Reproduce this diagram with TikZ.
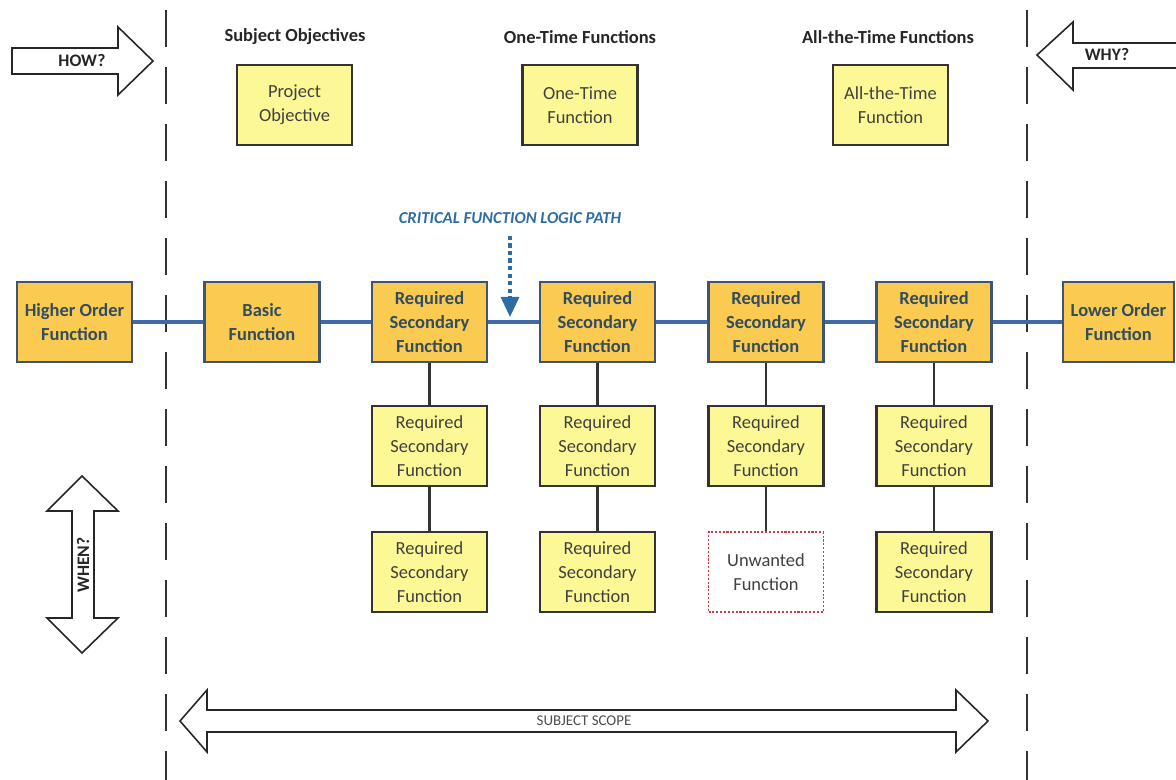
\documentclass[tikz,border=0pt]{standalone}
\usepackage{fontspec}
\setmainfont{Carlito}
\usepackage{tikz}
\usetikzlibrary{arrows.meta}
\usetikzlibrary{positioning}

\definecolor{gold}{RGB}{250,203,80}
\definecolor{boxline}{RGB}{62,84,112}
\definecolor{boxtext}{RGB}{50,76,96}
\definecolor{linkblue}{RGB}{64,104,172}
\definecolor{paleyellow}{RGB}{252,248,150}
\definecolor{critblue}{RGB}{46,108,164}
\definecolor{unwantedred}{RGB}{200,60,70}

\begin{document}
\begin{tikzpicture}
	[x=0.02cm,y=0.02cm,
	every node/.style={font=\fontsize{10.5}{13.5}\selectfont},
	mainbox/.style={draw=boxline,fill=gold,line width=1.2pt,minimum width=2.3cm,minimum height=1.6cm,align=center,text=boxtext,font=\fontsize{10.5}{13.5}\selectfont\bfseries},
	subbox/.style={draw=black!80,fill=paleyellow,line width=1.2pt,minimum width=2.3cm,minimum height=1.6cm,align=center,text=black!75},
	unwanted/.style={subbox,draw=unwantedred,fill=white,densely dotted,line width=1.1pt},
	heading/.style={font=\fontsize{10.5}{13.5}\selectfont\bfseries,text=black!85},
	bigarrow/.style={draw=black!85,fill=white,line width=0.9pt,line join=miter},
	arrowtext/.style={font=\fontsize{10}{12}\selectfont\bfseries,text=black!85},
	link/.style={draw=linkblue,line width=2pt},
	drop/.style={draw=black!80,line width=1.3pt},
	border/.style={draw=black!80,line width=1.2pt,dash pattern=on 0.74cm off 0.4cm}]
	\useasboundingbox (0,0) rectangle (1176,780);

	% scope boundaries
	\draw[border] (166,770) -- (166,0);
	\draw[border] (1027,770) -- (1027,0);

	% HOW? / WHY? / WHEN?
	\draw[bigarrow] (12,732) -- (118,732) -- (118,753) -- (153,719) -- (118,685) -- (118,706) -- (12,706) -- cycle;
	\node[arrowtext] (how) at (82,719) {HOW?};
	\draw[bigarrow] (1180,737) -- (1073,737) -- (1073,758) -- (1037,725) -- (1073,690) -- (1073,712) -- (1180,712);
	\node[arrowtext] (why) at (1107,725) {WHY?};
	\draw[bigarrow] (82,304) -- (118,269) -- (94,269) -- (94,162) -- (118,162) -- (82,127) -- (47,162) -- (72,162) -- (72,269) -- (47,269) -- cycle;
	\node[arrowtext,rotate=90] (when) at (83,215) {WHEN?};

	% top row
	\node[heading] (hsub) at (295,743) {Subject Objectives};
	\node[heading] (hone) at (580,743) {One-Time Functions};
	\node[heading] (hall) at (888,743) {All-the-Time Functions};
	\node[subbox] (proj) at (294.5,675) {Project\\Objective};
	\node[subbox] (once) at (580,675) {One-Time\\Function};
	\node[subbox] (always) at (890.5,675) {All-the-Time\\Function};

	% critical path
	\node[font=\fontsize{9.5}{11}\selectfont\bfseries\itshape,text=critblue] (crit) at (510,562) {CRITICAL FUNCTION LOGIC PATH};
	\coordinate (cp) at (510,463);
	\draw[critblue,line width=1.8pt,dash pattern=on 2.5pt off 1.8pt,-{Triangle[length=0.4cm,width=0.36cm]}] (crit.south) ++(0,-6) -- (cp);

	% main row
	\node[mainbox] (ho) at (74.5,458) {Higher Order\\Function};
	\node[mainbox] (basic) at (262,458) {Basic\\Function};
	\node[mainbox] (rs1) at (429.5,458) {Required\\Secondary\\Function};
	\node[mainbox] (rs2) at (597.5,458) {Required\\Secondary\\Function};
	\node[mainbox] (rs3) at (766,458) {Required\\Secondary\\Function};
	\node[mainbox] (rs4) at (934,458) {Required\\Secondary\\Function};
	\node[mainbox,minimum width=2.22cm] (lo) at (1118.5,458) {Lower Order\\Function};
	\draw[link] (ho) -- (basic) -- (rs1) -- (rs2) -- (rs3) -- (rs4) -- (lo);

	% secondary rows
	\node[subbox,below=0.84cm of rs1] (a2) {Required\\Secondary\\Function};
	\node[subbox,below=0.84cm of rs2] (b2) {Required\\Secondary\\Function};
	\node[subbox,below=0.84cm of rs3] (c2) {Required\\Secondary\\Function};
	\node[subbox,below=0.84cm of rs4] (d2) {Required\\Secondary\\Function};
	\node[subbox,below=0.88cm of a2] (a3) {Required\\Secondary\\Function};
	\node[subbox,below=0.88cm of b2] (b3) {Required\\Secondary\\Function};
	\node[unwanted,below=0.88cm of c2] (c3) {Unwanted\\Function};
	\node[subbox,below=0.88cm of d2] (d3) {Required\\Secondary\\Function};
	\draw[drop] (rs1) -- (a2) -- (a3);
	\draw[drop] (rs2) -- (b2) -- (b3);
	\draw[drop] (rs3) -- (c2) -- (c3);
	\draw[drop] (rs4) -- (d2) -- (d3);

	% subject scope
	\draw[bigarrow] (180,59) -- (207,90) -- (207,70) -- (956,70) -- (956,90) -- (988,59) -- (956,28) -- (956,48) -- (207,48) -- (207,28) -- cycle;
	\node[font=\fontsize{8.5}{10}\selectfont,text=black!70] (scope) at (584,59) {SUBJECT SCOPE};
\end{tikzpicture}
\end{document}
